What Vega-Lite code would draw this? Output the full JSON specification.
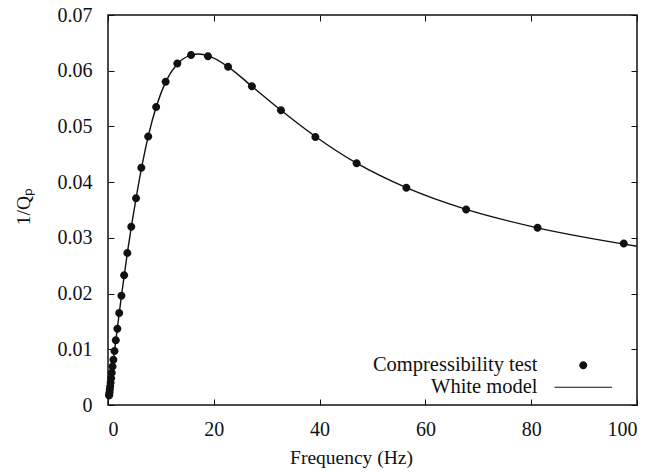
{
  "$schema": "https://vega.github.io/schema/vega-lite/v6.json",
  "width": 529,
  "height": 390,
  "autosize": "none",
  "padding": {"left": 108, "top": 15, "right": 35, "bottom": 67},
  "background": "white",
  "config": {
    "view": {"stroke": "#111", "strokeWidth": 1.5},
    "font": "Liberation Serif",
    "axis": {
      "grid": false,
      "domain": false,
      "tickSize": -6,
      "tickColor": "#111",
      "tickWidth": 1,
      "labelFont": "Liberation Serif",
      "labelFontSize": 20,
      "labelColor": "#111",
      "titleFont": "Liberation Serif",
      "titleFontSize": 19.5,
      "titleFontWeight": "normal",
      "titleColor": "#111"
    },
    "legend": {
      "labelFont": "Liberation Serif"
    }
  },
  "datasets": {
    "test": [
      {"f": 0.198, "q": 0.0017, "series": "Compressibility test"},
      {"f": 0.237, "q": 0.0019, "series": "Compressibility test"},
      {"f": 0.285, "q": 0.0023, "series": "Compressibility test"},
      {"f": 0.34, "q": 0.0028, "series": "Compressibility test"},
      {"f": 0.41, "q": 0.0033, "series": "Compressibility test"},
      {"f": 0.49, "q": 0.004, "series": "Compressibility test"},
      {"f": 0.59, "q": 0.0048, "series": "Compressibility test"},
      {"f": 0.71, "q": 0.0058, "series": "Compressibility test"},
      {"f": 0.85, "q": 0.0069, "series": "Compressibility test"},
      {"f": 1.02, "q": 0.0081, "series": "Compressibility test"},
      {"f": 1.23, "q": 0.0097, "series": "Compressibility test"},
      {"f": 1.47, "q": 0.0116, "series": "Compressibility test"},
      {"f": 1.77, "q": 0.0137, "series": "Compressibility test"},
      {"f": 2.12, "q": 0.0165, "series": "Compressibility test"},
      {"f": 2.54, "q": 0.0196, "series": "Compressibility test"},
      {"f": 3.05, "q": 0.0233, "series": "Compressibility test"},
      {"f": 3.66, "q": 0.0273, "series": "Compressibility test"},
      {"f": 4.4, "q": 0.032, "series": "Compressibility test"},
      {"f": 5.3, "q": 0.0371, "series": "Compressibility test"},
      {"f": 6.3, "q": 0.0426, "series": "Compressibility test"},
      {"f": 7.6, "q": 0.0482, "series": "Compressibility test"},
      {"f": 9.1, "q": 0.0535, "series": "Compressibility test"},
      {"f": 10.9, "q": 0.058, "series": "Compressibility test"},
      {"f": 13.1, "q": 0.0613, "series": "Compressibility test"},
      {"f": 15.7, "q": 0.0628, "series": "Compressibility test"},
      {"f": 18.9, "q": 0.0626, "series": "Compressibility test"},
      {"f": 22.7, "q": 0.0607, "series": "Compressibility test"},
      {"f": 27.2, "q": 0.0572, "series": "Compressibility test"},
      {"f": 32.7, "q": 0.0529, "series": "Compressibility test"},
      {"f": 39.2, "q": 0.0481, "series": "Compressibility test"},
      {"f": 47.0, "q": 0.0434, "series": "Compressibility test"},
      {"f": 56.4, "q": 0.039, "series": "Compressibility test"},
      {"f": 67.7, "q": 0.0351, "series": "Compressibility test"},
      {"f": 81.2, "q": 0.0318, "series": "Compressibility test"},
      {"f": 97.5, "q": 0.029, "series": "Compressibility test"}
    ],
    "model": [
      {"f": 0.198, "q": 0.0016},
      {"f": 0.49, "q": 0.004},
      {"f": 1.02, "q": 0.0081},
      {"f": 1.77, "q": 0.0138},
      {"f": 2.54, "q": 0.0196},
      {"f": 3.66, "q": 0.0273},
      {"f": 5.3, "q": 0.0371},
      {"f": 7.6, "q": 0.0482},
      {"f": 10.9, "q": 0.058},
      {"f": 13.1, "q": 0.0612},
      {"f": 15.7, "q": 0.0628},
      {"f": 17.2, "q": 0.063},
      {"f": 18.9, "q": 0.0627},
      {"f": 22.7, "q": 0.0607},
      {"f": 27.2, "q": 0.0572},
      {"f": 32.7, "q": 0.0529},
      {"f": 39.2, "q": 0.0482},
      {"f": 47.0, "q": 0.0434},
      {"f": 56.4, "q": 0.039},
      {"f": 67.7, "q": 0.0351},
      {"f": 81.2, "q": 0.0318},
      {"f": 100, "q": 0.0285}
    ]
  },
  "layer": [
    {
      "data": {"name": "model"},
      "mark": {"type": "line", "color": "#111", "strokeWidth": 1.4, "interpolate": "monotone"},
      "encoding": {
        "x": {
          "field": "f", "type": "quantitative",
          "scale": {"domain": [0, 100], "nice": false},
          "axis": {"orient": "bottom", "values": [0, 20, 40, 60, 80, 100], "labelPadding": 20, "title": "Frequency (Hz)", "titleX": 243, "titleY": 52, "titleBaseline": "middle", "titleAlign": "center"}
        },
        "y": {
          "field": "q", "type": "quantitative",
          "scale": {"domain": [0, 0.07], "nice": false, "zero": false},
          "axis": {"orient": "left", "values": [0, 0.01, 0.02, 0.03, 0.04, 0.05, 0.06, 0.07], "format": ".2~f", "labelPadding": 22, "title": "1/Qₚ", "titleX": -85, "titleY": 191, "titleAngle": -90, "titleAlign": "center", "titleBaseline": "middle"}
        }
      }
    },
    {
      "data": {"name": "test"},
      "mark": {"type": "point", "filled": true, "opacity": 1, "size": 64, "color": "#111"},
      "encoding": {
        "x": {
          "field": "f", "type": "quantitative",
          "axis": {"orient": "top", "values": [0, 20, 40, 60, 80, 100], "labels": false, "title": null}
        },
        "y": {
          "field": "q", "type": "quantitative",
          "axis": {"orient": "right", "values": [0, 0.01, 0.02, 0.03, 0.04, 0.05, 0.06, 0.07], "labels": false, "title": null}
        },
        "shape": {
          "field": "series", "type": "nominal",
          "scale": {
            "domain": ["Compressibility test", "White model"],
            "range": ["M-1,0A1,1,0,1,0,1,0A1,1,0,1,0,-1,0Z", "M-7.2,-0.15L7.2,-0.15L7.2,0.15L-7.2,0.15Z"]
          },
          "legend": {
            "orient": "none",
            "legendX": 465,
            "legendY": 340,
            "title": null,
            "padding": 0,
            "labelAlign": "right",
            "labelOffset": -56,
            "labelFont": "Liberation Serif",
            "labelFontSize": 20.5,
            "labelColor": "#111",
            "labelLimit": 400,
            "symbolSize": 64,
            "rowPadding": 1,
            "symbolFillColor": "#111",
            "symbolStrokeWidth": 0,
            "symbolOpacity": 1,
            "encode": {
              "symbols": {"update": {"fill": {"value": "#111"}, "opacity": {"value": 1}}}
            }
          }
        }
      }
    }
  ],
  "resolve": {"axis": {"x": "independent", "y": "independent"}}
}
